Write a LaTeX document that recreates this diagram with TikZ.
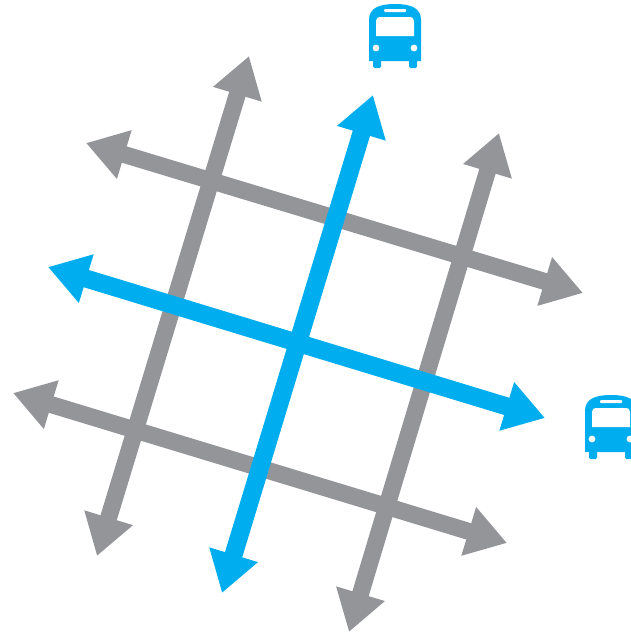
\documentclass[tikz,border=0pt]{standalone}
\usetikzlibrary{arrows.meta}
\definecolor{roadgray}{HTML}{939598}
\definecolor{roadblue}{HTML}{00AEEF}
\tikzset{
  road/.style={{Triangle[length=40pt,width=48pt]}-{Triangle[length=40pt,width=48pt]}},
  grayroad/.style={road,line width=17pt,draw=roadgray},
  blueroad/.style={road,line width=18pt,draw=roadblue},
  pics/busicon/.style={code={
    \fill[roadblue,rounded corners=1.5pt] (-22,-32) rectangle (-14,-20);
    \fill[roadblue,rounded corners=1.5pt] (14,-32) rectangle (22,-20);
    \fill[roadblue] (-26,-25) -- (-26,16) .. controls (-26,28) and (-16,32) .. (0,32)
      .. controls (16,32) and (26,28) .. (26,16) -- (26,-25) -- cycle;
    \fill[white] (-19,0) -- (-19,15) .. controls (-19,18) and (-17,19) .. (-15,19)
      -- (15,19) .. controls (17,19) and (19,18) .. (19,15) -- (19,0) -- cycle;
    \fill[white,rounded corners=1pt] (-11,24) rectangle (11,27);
    \fill[white] (-19,-12) circle (3.4);
    \fill[white] (19,-12) circle (3.4);
  }}
}
\begin{document}
\begin{tikzpicture}[x=1pt,y=-1pt]
\useasboundingbox (0,0) rectangle (631,635);
% ends of the roads
\coordinate (left1) at (97,556);
\coordinate (left2) at (249,56);
\coordinate (mid1) at (222,593);
\coordinate (mid2) at (373,95);
\coordinate (right1) at (349,632);
\coordinate (right2) at (499,133);
\coordinate (top1) at (86,143);
\coordinate (top2) at (583,293);
\coordinate (cen1) at (48,267);
\coordinate (cen2) at (545,418);
\coordinate (bot1) at (13,393);
\coordinate (bot2) at (507,543);
% gray roads first
\draw[grayroad] (left1) -- (left2);
\draw[grayroad] (right1) -- (right2);
\draw[grayroad] (top1) -- (top2);
\draw[grayroad] (bot1) -- (bot2);
% blue roads
\draw[blueroad] (mid1) -- (mid2);
\draw[blueroad] (cen1) -- (cen2);
% buses
\pic[yscale=-1] at (395,36) {busicon};
\pic[yscale=-1] at (611,427) {busicon};
\end{tikzpicture}
\end{document}
